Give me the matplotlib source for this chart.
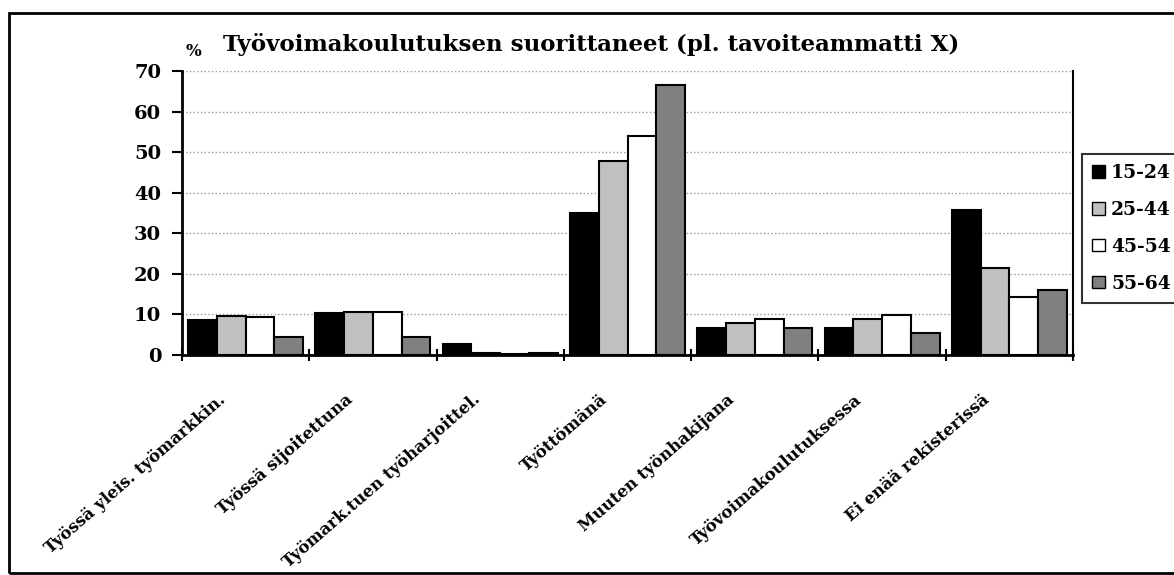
import matplotlib
matplotlib.use("Agg")
import matplotlib.pyplot as plt
import matplotlib.transforms as mtransforms
from matplotlib.patches import Patch, Rectangle
import numpy as np

categories = ["Työssä yleis. työmarkkin.", "Työssä sijoitettuna", "Työmark.tuen työharjoittel.",
              "Työttömänä", "Muuten työnhakijana", "Työvoimakoulutuksessa", "Ei enää rekisterissä"]
series_names = ["15-24", "25-44", "45-54", "55-64"]
v_15_24 = [8.6, 10.3, 2.6, 34.9, 6.7, 6.7, 35.7]
v_25_44 = [9.7, 10.7, 0.4, 47.8, 8.0, 8.8, 21.4]
v_45_54 = [9.3, 10.7, 0.2, 53.9, 8.9, 9.8, 14.2]
v_55_64 = [4.4, 4.4, 0.4, 66.6, 6.6, 5.3, 15.9]
yticks = [0, 10, 20, 30, 40, 50, 60, 70]
title = "Työvoimakoulutuksen suorittaneet (pl. tavoiteammatti X)"

colors = ["#000000", "#C0C0C0", "#FFFFFF", "#808080"]
FONT = "DejaVu Serif"

W, H = 1174, 575
fig = plt.figure(figsize=(W / 100, H / 100), dpi=100)
fig.patch.set_facecolor("white")

# outer chart border
fig.patches.append(Rectangle((9 / W, 1 - 573 / H), 1.2, (573 - 13) / H, transform=fig.transFigure,
                             fill=False, edgecolor="black", linewidth=2, zorder=0))

ax = fig.add_axes([182 / W, 1 - 355 / H, (1073 - 182) / W, (355 - 71) / H])
n = len(categories)
x = np.arange(n)
bw = 0.226
data = [v_15_24, v_25_44, v_45_54, v_55_64]
for i, (vals, c, name) in enumerate(zip(data, colors, series_names)):
    ax.bar(x + (i - 1.5) * bw, vals, width=bw, color=c, edgecolor="black", linewidth=1.5,
           label=name, zorder=3)

ax.set_xlim(-0.5, n - 0.5)
ax.set_ylim(0, 70)
ax.set_yticks(yticks)
ax.set_yticklabels([str(t) for t in yticks], fontfamily=FONT, fontweight="bold", fontsize=14)
ax.yaxis.grid(True, color="#9a9a9a", linestyle=":", linewidth=1, zorder=0)
ax.tick_params(axis="y", direction="out", length=7, width=1.5, pad=8)
ax.set_xticks(np.arange(n + 1) - 0.5)
ax.set_xticklabels([])
ax.tick_params(axis="x", direction="inout", length=9, width=1.5)

for s in ["left", "bottom"]:
    ax.spines[s].set_linewidth(2)
    ax.spines[s].set_color("black")
ax.spines["right"].set_linewidth(1.5)
ax.spines["right"].set_color("black")
ax.spines["top"].set_visible(False)

offset = mtransforms.ScaledTranslation(-28 / 100, -36 / 100, fig.dpi_scale_trans)
trans = mtransforms.blended_transform_factory(ax.transData, ax.transAxes) + offset
for xi, lab in zip(x, categories):
    ax.text(xi, 0, lab, transform=trans, rotation=41, rotation_mode="anchor", ha="right", va="top",
            fontfamily=FONT, fontweight="bold", fontsize=12)

fig.text(591 / W, 1 - 45 / H, title, ha="center", va="center", fontfamily=FONT,
         fontweight="bold", fontsize=16.5)
fig.text(193 / W, 1 - 52 / H, "%", ha="center", va="center", fontfamily=FONT,
         fontweight="bold", fontsize=12)

handles = [Patch(facecolor=c, edgecolor="black", linewidth=1) for c in colors]
leg = fig.legend(handles, series_names, loc="upper left", bbox_to_anchor=(1082 / W, 1 - 154 / H),
                 prop={"family": FONT, "weight": "bold", "size": 13.5}, frameon=True, fancybox=False,
                 handlelength=0.65, handleheight=0.65, handletextpad=0.35, labelspacing=1.0,
                 borderpad=0.55, borderaxespad=0)
leg.get_frame().set_edgecolor("black")
leg.get_frame().set_linewidth(1.5)

fig.savefig("out.png", dpi=100)
